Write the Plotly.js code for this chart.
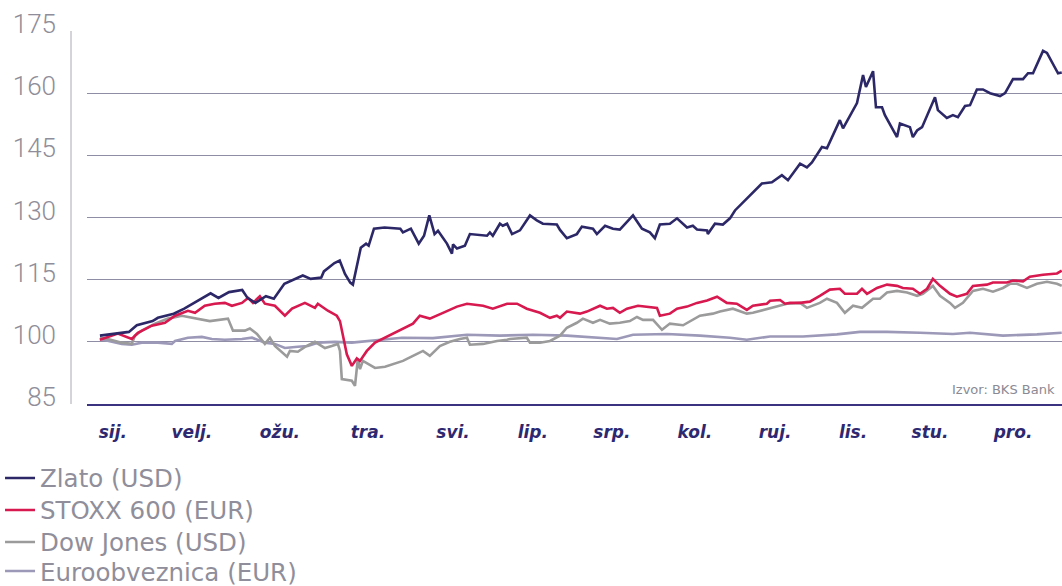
<!DOCTYPE html>
<html>
<head>
<meta charset="utf-8">
<script src="https://cdn.plot.ly/plotly-3.0.1.min.js"></script>
<style>html,body{margin:0;padding:0;background:#fff;}#chart{width:1062px;height:586px;}</style>
</head>
<body>
<div id="chart"></div>
<script>
// Day of year (2025) and index values (start = 100)
const goldDays = [0,7,11,14,20,22,28,32,36,40,42,45,49,54,56,59,63,66,70,77,80,84,85,89,91,93,95,96,99,101,102,104,108,114,115,118,121,123,125,127,128.3,131.7,133.6,134,135.5,138.5,140.4,146.9,148,149.1,151.8,152.9,154.5,156.4,159.4,163.2,165.8,168.1,173.4,174.6,177.2,181,182.9,187.1,188.6,191.7,194.7,197.3,202.3,205.7,208.7,210.6,212.5,216.3,219,222.8,225,226.6,230.4,230.7,233.4,236.4,239.1,241,246.7,251.2,255,258.8,261.1,265.7,268.3,270.2,274,275.9,280.8,282,287.3,289.6,290.7,293.4,294.5,296.8,297.9,302.5,303.6,307.4,308.5,310.1,312,315,316.9,318,321.4,323.7,325.6,328.3,330.2,332.8,335.1,337.8,341.6,343.5,346.5,350.3,352.2,354.1,357.9,359.4,363.6,365];
const goldValues = [101.5,102,102.4,104,105,105.8,106.8,108,109.5,111,111.7,110.6,112,112.5,110.6,109.4,111,110.4,114,116,115.2,115.5,117,119,119.6,116.4,114.3,113.8,122.7,123.7,123.2,127.3,127.6,127.3,126.4,127.3,123.7,125.6,130.5,126,126.8,123.7,121.3,123.5,122.5,123.2,126,125.6,126.4,125.6,128.5,128,128.5,126,126.9,130.5,129.3,128.5,128.3,127,125,126,127.8,127.3,126,128,127.3,127.1,130.5,127.3,126.4,125,128.3,128.5,129.8,127.6,128,127.1,126.9,126,128.5,128.3,129.8,131.7,135.3,138.2,138.5,140.2,139,143,142.1,143.3,147,146.7,153.5,151.5,157.6,164.4,161.5,165.3,156.6,156.6,154.7,149.4,152.7,151.8,149.4,151,151.8,156.4,159,155.9,154,154.7,154.2,156.9,157.1,160.9,160.9,160,159.3,160,163.4,163.4,164.8,164.8,170.2,169.7,164.8,165];

const stoxxDays = [0,3,6.8,12.1,14.4,19.7,24.7,28.5,33.4,36.1,39.8,43.6,47.4,50.1,53.9,56.2,58.1,60.7,62.6,66.4,70.2,72.9,77.8,81.6,82.7,86.5,89.9,91.1,93.7,95.6,97.5,98.7,101.3,104.4,108.2,112,115,118.8,121.4,125.2,130.2,135.5,139.3,145.4,149.1,154.5,158.3,162,167,170.8,173.4,174.6,177.2,182.2,184.8,189.8,192.4,194.7,197.3,200,204.2,207.6,211.4,212.5,216.3,219,222.8,226.6,230.4,234.2,237.9,241.7,245.5,247.8,253.1,254.3,258.1,260,261.9,265.7,269.4,273.2,277,280.8,282.7,287.3,289.2,291.1,294.9,298.7,302.5,304.7,308.5,311.2,313.9,316.1,318.8,322.6,325.2,329,331.3,336.6,338.9,344.2,346.5,350.3,352.9,357.9,363.2,365];
const stoxxValues = [100.5,101.2,102,100.7,102.2,103.9,104.6,106.3,107.5,107,108.7,109.2,109.4,108.7,109.4,110.6,109.4,111,109.2,108.7,106.3,108,109.4,108.2,109.2,107.5,106.3,105,97,94.2,96,95.4,97.8,99.8,101,102.2,103.2,104.4,106.3,105.6,107,108.5,109.2,108.7,108,109.2,109.2,108,107,105.8,106.3,105.8,107.3,106.8,107.3,108.7,108,108.2,107,108,108.7,108.5,108.2,106.3,106.8,108,108.5,109.4,110,110.9,109.4,109.2,107.7,108.7,109.2,109.9,110.1,109.2,109.4,109.4,109.7,111.1,112.6,112.8,111.6,111.6,112.8,111.6,113,113.8,113.5,113,112.8,111.6,112.8,115.2,113.5,111.6,110.9,111.6,113.5,113.8,114.3,114.3,114.8,114.6,115.7,116.2,116.5,117.2];

const dowDays = [0,3,8.3,12.1,13.3,15.9,20.9,25.8,31.1,34.9,36.1,41.7,48.6,50.5,55,56.9,59.6,62.6,64.5,66.4,71,72.1,75.1,77.8,81.6,85.4,88,90.3,91.1,91.8,95.6,96.8,97.9,98.7,99.8,104.4,108.2,112,115,118.8,122.6,125.2,129,132.8,136.6,139.3,140.4,145.4,150.7,154.5,155.6,162,163.2,167,170.8,174.6,177.2,181,183.3,187.1,189.8,193.5,197.3,201.1,203.8,206.1,209.9,213.3,216.3,221.3,223.9,227.7,232.6,235.3,240.2,245.5,247.8,254.3,260.7,265.7,268.3,273.2,275.9,279.7,282.7,285.8,289.2,293.4,296,298.7,302.5,306.3,310.1,312.3,316.1,318.8,322.6,324.5,327.5,331.3,335.1,338.9,342.7,345.4,348,351.8,355.6,359.4,363.2,365];
const dowValues = [101,100.7,99.8,99.5,101.5,102.7,104.4,105.6,106.3,105.8,105.6,105,105.6,102.7,102.7,103.2,101.9,99.5,101,99,96.4,97.8,97.6,98.8,100,98.5,99,99.5,97.8,91,90.6,89.4,96,93.4,95.4,93.7,94,94.7,95.4,96.6,97.8,96.6,99,100,100.7,101,99.3,99.5,100.2,100.5,100.7,101,99.8,99.8,100.2,101.5,103.4,104.6,105.6,104.6,105.3,104.4,104.6,105,106,105.3,105.3,102.9,104.4,104,105,106.3,106.8,107.3,108,106.8,107,108.2,109.2,109.4,108.2,109.4,110.4,109.4,107,108.7,108.2,110.4,110.4,111.9,112.3,111.9,111.1,111.6,113.5,111.1,109.4,108.2,109.4,112.3,112.8,112.1,113,114,114,113,114,114.5,114,113.5];

const euroDays = [0,4.6,8.3,12.1,15.9,22,27.3,28.5,33.4,38.7,42.5,47.4,53.9,57.7,62.6,66.4,70.2,75.1,78.9,82.7,89.2,95.6,101.7,108.2,114.6,126.4,139.3,151.8,164.3,177.2,189.8,196.2,202.3,215.2,227.7,239.1,245.5,254.3,266.8,279.7,288.4,298.7,311.2,323.7,330.2,342.7,355.6,365];
const euroValues = [100.7,100,99.5,99.3,99.8,99.8,99.5,100.2,101,101.2,100.7,100.5,100.7,101,99.8,99.5,98.5,98.8,99,99.8,100,99.8,100.2,100.7,101,100.9,101.7,101.5,101.7,101.5,101,100.7,101.7,101.9,101.5,101,100.5,101.3,101.3,101.8,102.4,102.4,102.2,101.9,102.2,101.5,101.8,102.2];

const monthTickDays = [4.9,34.9,68.3,101.7,134,164.3,194.3,225.8,256.2,285.8,315,346.5];
const monthLabels = ['sij.','velj.','ožu.','tra.','svi.','lip.','srp.','kol.','ruj.','lis.','stu.','pro.'];
const yTicks = [85,100,115,130,145,160,175];

const seriesNames = ['Zlato (USD)','STOXX 600 (EUR)','Dow Jones (USD)','Euroobveznica (EUR)'];
const sourceText = 'Izvor: BKS Bank';

const mk = (x, y, name, color, legendId) => ({
  type: 'scatter', mode: 'lines', x: x, y: y, name: name, legend: legendId,
  line: {color: color, width: 2.6, shape: 'linear'}, hoverinfo: 'skip'
});

const traces = [
  mk(euroDays, euroValues, seriesNames[3], '#9c98b8', 'legend4'),
  mk(dowDays, dowValues, seriesNames[2], '#9b9b9b', 'legend3'),
  mk(stoxxDays, stoxxValues, seriesNames[1], '#d7194f', 'legend2'),
  mk(goldDays, goldValues, seriesNames[0], '#2c2868', 'legend')
];

const legendBase = (yc) => ({
  orientation: 'v', x: -0.0892, xanchor: 'left', y: yc, yanchor: 'middle',
  bgcolor: 'rgba(0,0,0,0)', borderwidth: 0,
  font: {family: 'DejaVu Sans, sans-serif', size: 24.5, color: '#8f8e9a'},
  itemclick: false, itemdoubleclick: false
});

const layout = {
  width: 1062, height: 586,
  margin: {l: 87, r: 0, t: 31, b: 182, pad: 0, autoexpand: false},
  paper_bgcolor: '#ffffff', plot_bgcolor: '#ffffff',
  showlegend: true,
  legend: legendBase(-0.1984),
  legend2: legendBase(-0.2842),
  legend3: legendBase(-0.370),
  legend4: legendBase(-0.448),
  xaxis: {
    range: [-4.9, 365.1], showgrid: false, zeroline: false,
    showline: true, linecolor: '#3b3280', linewidth: 1.5,
    tickmode: 'array', tickvals: monthTickDays, ticktext: monthLabels,
    ticks: '', ticklabelstandoff: 12,
    tickfont: {family: 'DejaVu Sans, sans-serif', size: 17, color: '#2e2870', weight: 'bold', style: 'italic'},
    fixedrange: true
  },
  yaxis: {
    range: [85, 175], showgrid: true, gridcolor: '#8f8ca6', gridwidth: 1,
    zeroline: false, showline: false,
    tickmode: 'array', tickvals: yTicks, ticks: '',
    ticklabelstandoff: 30, ticklabelshift: -7,
    tickfont: {family: 'Roboto, sans-serif', size: 26, color: '#8e8d99', weight: 300},
    fixedrange: true
  },
  shapes: [{
    type: 'line', xref: 'paper', yref: 'paper', x0: -0.0164, x1: -0.0164, y0: 0, y1: 1,
    line: {color: '#c5c5cc', width: 1.5}
  }],
  annotations: [{
    text: sourceText, xref: 'paper', yref: 'paper', x: 0.9949, y: 0.04,
    xanchor: 'right', yanchor: 'middle', showarrow: false,
    font: {family: 'DejaVu Sans, sans-serif', size: 13, color: '#8a8a94'}
  }]
};

Plotly.newPlot('chart', traces, layout, {displayModeBar: false, staticPlot: true});
</script>
</body>
</html>
